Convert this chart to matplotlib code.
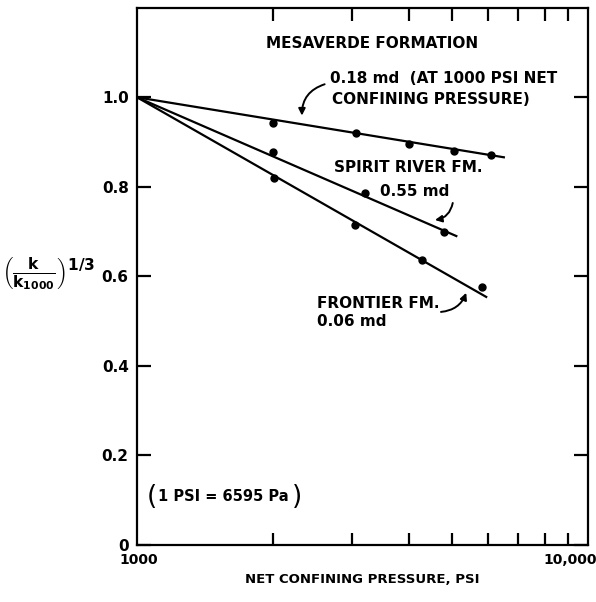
import numpy as np
import matplotlib
matplotlib.use("Agg")
import matplotlib.pyplot as plt
from matplotlib import font_manager
from matplotlib.ticker import FixedLocator, NullFormatter, NullLocator

# narrow bold face if one is installed, otherwise plain DejaVu bold
face = "DejaVu Sans"
for path in sorted(font_manager.findSystemFonts()):
    name = path.rsplit("/", 1)[-1]
    if name in ("LiberationSansNarrow-Bold.ttf", "DejaVuSansCondensed-Bold.ttf"):
        font_manager.fontManager.addfont(path)
        face = font_manager.FontProperties(fname=path).get_name()
        if "Narrow" in name:
            break

plt.rcParams["font.family"] = [face, "DejaVu Sans"]
plt.rcParams["font.weight"] = "bold"
plt.rcParams["axes.labelweight"] = "bold"
plt.rcParams["mathtext.fontset"] = "custom"
plt.rcParams["mathtext.rm"] = face + ":bold"
plt.rcParams["mathtext.it"] = face + ":bold"
plt.rcParams["mathtext.bf"] = face + ":bold"

# measured points, (k/k1000)^(1/3) vs net confining pressure (psi)
mesa_p = [2000, 3050, 4000, 5050, 6100]
mesa_v = [0.942, 0.920, 0.895, 0.879, 0.871]
spirit_p = [2000, 3200, 4800]
spirit_v = [0.877, 0.786, 0.699]
frontier_p = [2010, 3040, 4270, 5800]
frontier_v = [0.819, 0.714, 0.636, 0.576]

# straight-line fits, drawn from the 1000 psi reference point
line_start = (1000, 1.0)
mesa_end = (6500, 0.866)
spirit_end = (5100, 0.690)
frontier_end = (5940, 0.554)

y_ticks = [0, 0.2, 0.4, 0.6, 0.8, 1.0]
y_labels = ["0", "0.2", "0.4", "0.6", "0.8", "1.0"]
x_minor = [2000, 3000, 4000, 5000, 6000, 7000, 8000, 9000]

fig = plt.figure(figsize=(5.96, 6.02), dpi=100)
ax = fig.add_axes([0.230, 0.095, 0.757, 0.892])
ax.set_xscale("log")
ax.set_xlim(1000, 10000)
ax.set_ylim(0, 1.2)

for pts_p, pts_v, end in [(mesa_p, mesa_v, mesa_end),
                          (spirit_p, spirit_v, spirit_end),
                          (frontier_p, frontier_v, frontier_end)]:
    ax.plot([line_start[0], end[0]], [line_start[1], end[1]], color="black", lw=1.6)
    ax.plot(pts_p, pts_v, "o", color="black", ms=5)

for s in ax.spines.values():
    s.set_linewidth(1.6)

ax.xaxis.set_major_locator(NullLocator())
ax.xaxis.set_minor_locator(FixedLocator(x_minor))
ax.xaxis.set_minor_formatter(NullFormatter())
ax.set_yticks(y_ticks)
ax.set_yticklabels(y_labels, fontsize=11)
ax.yaxis.set_minor_locator(NullLocator())
ax.tick_params(axis="x", which="minor", direction="in", length=9, width=1.6,
               top=True, bottom=True)
ax.tick_params(axis="y", which="major", direction="in", length=10, width=1.6,
               left=True, right=True, pad=6)

# end labels of the log axis
ax.annotate("1000", xy=(1000, 0), xycoords=("data", "axes fraction"),
            xytext=(1, -6), textcoords="offset points",
            ha="center", va="top", fontsize=10)
ax.annotate("10,000", xy=(10000, 0), xycoords=("data", "axes fraction"),
            xytext=(6, -6), textcoords="offset points",
            ha="right", va="top", fontsize=10)

ax.set_xlabel("NET CONFINING PRESSURE, PSI", fontsize=9.5, labelpad=17)
fig.text(0.082, 0.545, r"$\left(\frac{k}{k_{1000}}\right)^{1/3}$",
         fontsize=16, ha="center", va="center")

ax.text(3320, 1.121, "MESAVERDE FORMATION", fontsize=11, ha="center", va="center")
ax.text(2680, 1.042, "0.18 md  (AT 1000 PSI NET", fontsize=11, ha="left", va="center")
ax.text(2700, 0.996, "CONFINING PRESSURE)", fontsize=11, ha="left", va="center")
ax.text(2735, 0.844, "SPIRIT RIVER FM.", fontsize=11, ha="left", va="center")
ax.text(3460, 0.790, "0.55 md", fontsize=11, ha="left", va="center")
ax.text(2506, 0.540, "FRONTIER FM.", fontsize=11, ha="left", va="center")
ax.text(2506, 0.498, "0.06 md", fontsize=11, ha="left", va="center")

# conversion note with tall brackets
ax.text(1050, 0.107, "(", fontsize=19, fontweight="normal", ha="left", va="center")
ax.text(1110, 0.107, "1 PSI = 6595 Pa", fontsize=10.5, ha="left", va="center")
ax.text(2200, 0.107, ")", fontsize=19, fontweight="normal", ha="left", va="center")

arrow = dict(arrowstyle="-|>", color="black", lw=1.4, mutation_scale=10)
ax.annotate("", xy=(2320, 0.953), xytext=(2640, 1.031),
            arrowprops=dict(arrow, connectionstyle="arc3,rad=0.4"))
ax.annotate("", xy=(4510, 0.725), xytext=(5020, 0.770),
            arrowprops=dict(arrow, connectionstyle="arc3,rad=-0.4"))
ax.annotate("", xy=(5390, 0.569), xytext=(4650, 0.520),
            arrowprops=dict(arrow, connectionstyle="arc3,rad=0.35"))

fig.savefig("out.png", dpi=100)
